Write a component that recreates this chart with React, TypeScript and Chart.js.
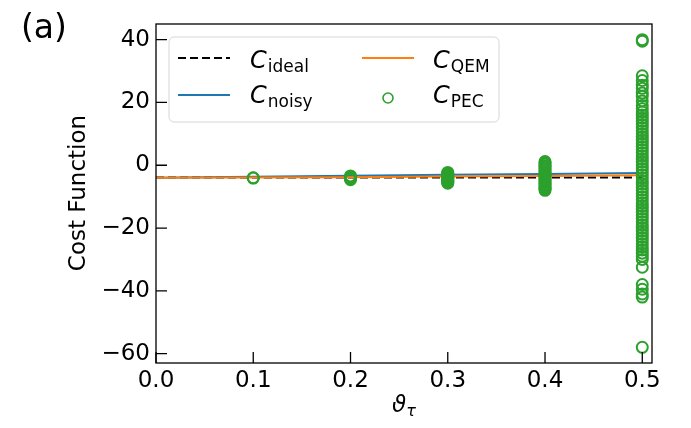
import { useEffect, useRef } from 'react';
import { Chart, registerables } from 'chart.js';
Chart.register(...registerables);

const thetaGrid = [0, 0.1, 0.2, 0.3, 0.4, 0.5];
const idealCost = [-3.9, -3.9, -3.9, -3.9, -3.9, -3.9];
const noisyCost = [-4.0, -3.7, -3.35, -3.0, -2.75, -2.5];
const qemCost = [-4.0, -3.9, -3.8, -3.6, -3.4, -3.2];

const pecCost01 = [-4.1, -4.0];
const pecCost02 = [-3.4, -3.6, -3.9, -4.1, -4.3, -4.6];
const pecCost03 = [-2.3, -2.6, -2.9, -3.1, -3.4, -3.7, -3.9, -4.1, -4.4, -4.7, -4.9, -5.2, -5.4, -5.7];
const pecCost04 = [
  1.2, 0.8, 0.3, -0.2, -0.6, -1.1, -1.5, -2.0, -2.4, -2.9, -3.3, -3.8, -4.2, -4.6, -5.1, -5.5, -5.9, -6.4,
  -6.8, -7.2, -7.6, -8.0,
];
const pecCost05 = [
  40, 39.5, 28.5, 27, 25.5, 24.5, 23, 22, 20.5, 19, 18, 17, 16, 15, 14, 13, 12, 11, 10, 9, 8, 7, 6, 5, 4,
  3, 2, 1, 0, -1, -2, -3, -4, -5, -6, -7, -8, -9, -10, -11, -12, -13, -14, -15, -16, -17, -18, -19, -20,
  -21, -22, -23, -24, -25, -26, -27, -28, -29, -30, -32.5, -38, -39.5, -41, -42, -58,
];

const xTicks = [0, 0.1, 0.2, 0.3, 0.4, 0.5];
const yTicks = [-60, -40, -20, 0, 20, 40];

const FONT = "'DejaVu Sans', sans-serif";

const pecPoints = [
  ...pecCost01.map((y) => ({ x: 0.1, y })),
  ...pecCost02.map((y) => ({ x: 0.2, y })),
  ...pecCost03.map((y) => ({ x: 0.3, y })),
  ...pecCost04.map((y) => ({ x: 0.4, y })),
  ...pecCost05.map((y) => ({ x: 0.5, y })),
];

const toXY = (ys: number[]) => thetaGrid.map((x, i) => ({ x, y: ys[i] }));

function drawSubLabel(ctx: CanvasRenderingContext2D, x: number, y: number, main: string, sub: string, size: number) {
  ctx.save();
  ctx.fillStyle = '#000';
  ctx.textBaseline = 'alphabetic';
  ctx.textAlign = 'left';
  ctx.font = `italic ${size}px ${FONT}`;
  ctx.fillText(main, x, y);
  const w = ctx.measureText(main).width;
  ctx.font = `${Math.round(size * 0.7)}px ${FONT}`;
  ctx.fillText(sub, x + w + 1, y + size * 0.15);
  ctx.restore();
}

const framePlugin = {
  id: 'framePlugin',
  afterDatasetsDraw(chart: any) {
    const { ctx, chartArea, scales } = chart;
    const { left, right, top, bottom } = chartArea;
    ctx.save();
    ctx.strokeStyle = '#000';
    ctx.lineWidth = 1.3;
    ctx.beginPath();
    yTicks.forEach((v) => {
      const py = scales.y.getPixelForValue(v);
      ctx.moveTo(left, py);
      ctx.lineTo(left + 11, py);
    });
    xTicks.forEach((v) => {
      const px = scales.x.getPixelForValue(v);
      ctx.moveTo(px, bottom);
      ctx.lineTo(px, bottom - 11);
    });
    ctx.stroke();
    ctx.strokeRect(left, top, right - left, bottom - top);
    ctx.restore();

    // legend
    const ds = chart.data.datasets;
    ctx.save();
    const bx = 169, by = 37, bw = 330, bh = 85, r = 5;
    ctx.beginPath();
    ctx.moveTo(bx + r, by);
    ctx.arcTo(bx + bw, by, bx + bw, by + bh, r);
    ctx.arcTo(bx + bw, by + bh, bx, by + bh, r);
    ctx.arcTo(bx, by + bh, bx, by, r);
    ctx.arcTo(bx, by, bx + bw, by, r);
    ctx.closePath();
    ctx.fillStyle = 'rgba(255,255,255,0.8)';
    ctx.fill();
    ctx.strokeStyle = '#d6d6d6';
    ctx.lineWidth = 1;
    ctx.stroke();

    const items = [
      { d: ds[0], lx: 178, ly: 58, tx: 250, ty: 68, sub: 'ideal' },
      { d: ds[1], lx: 178, ly: 95, tx: 250, ty: 103, sub: 'noisy' },
      { d: ds[2], lx: 362, ly: 58, tx: 433, ty: 68, sub: 'QEM' },
      { d: ds[3], lx: 362, ly: 98, tx: 433, ty: 103, sub: 'PEC' },
    ];
    items.forEach((it) => {
      if (it.d.type === 'scatter') {
        ctx.beginPath();
        ctx.arc(it.lx + 26, it.ly, 5, 0, Math.PI * 2);
        ctx.strokeStyle = it.d.borderColor;
        ctx.lineWidth = 1.6;
        ctx.stroke();
      } else {
        ctx.beginPath();
        ctx.setLineDash(it.d.borderDash || []);
        ctx.moveTo(it.lx, it.ly);
        ctx.lineTo(it.lx + 52, it.ly);
        ctx.strokeStyle = it.d.borderColor;
        ctx.lineWidth = it.d.borderWidth;
        ctx.stroke();
        ctx.setLineDash([]);
      }
      drawSubLabel(ctx, it.tx, it.ty, 'C', it.sub, 24);
    });
    ctx.restore();

    // titles
    ctx.save();
    ctx.fillStyle = '#000';
    ctx.font = `23px ${FONT}`;
    ctx.textAlign = 'center';
    ctx.textBaseline = 'middle';
    ctx.translate(79, 193);
    ctx.rotate(-Math.PI / 2);
    ctx.fillText('Cost Function', 0, 0);
    ctx.restore();

    ctx.save();
    ctx.fillStyle = '#000';
    ctx.font = `italic 23px ${FONT}`;
    ctx.textBaseline = 'alphabetic';
    const cx = (left + right) / 2;
    const w1 = ctx.measureText('ϑ').width;
    ctx.font = `16px ${FONT}`;
    const w2 = ctx.measureText('τ').width;
    const sx = cx - (w1 + w2) / 2;
    ctx.font = `italic 23px ${FONT}`;
    ctx.fillText('ϑ', sx, 412);
    ctx.font = `italic 16px ${FONT}`;
    ctx.fillText('τ', sx + w1, 416);
    ctx.font = `33px ${FONT}`;
    ctx.fillText('(a)', 21, 38);
    ctx.restore();
  },
};

export default function App() {
  const ref = useRef<HTMLCanvasElement>(null);
  useEffect(() => {
    document.body.style.margin = '0';
    const canvas = ref.current!;
    const chart = new Chart(canvas, {
      type: 'line',
      data: {
        datasets: [
          {
            type: 'line',
            label: 'C_ideal',
            data: toXY(idealCost),
            borderColor: '#000000',
            borderDash: [8, 4],
            borderWidth: 2,
            pointRadius: 0,
            order: 3,
          },
          {
            type: 'line',
            label: 'C_noisy',
            data: toXY(noisyCost),
            borderColor: '#1f77b4',
            borderWidth: 2,
            pointRadius: 0,
            order: 2,
          },
          {
            type: 'line',
            label: 'C_QEM',
            data: toXY(qemCost),
            borderColor: '#ff7f0e',
            borderWidth: 2,
            pointRadius: 0,
            order: 1,
          },
          {
            type: 'scatter',
            label: 'C_PEC',
            data: pecPoints,
            borderColor: '#2ca02c',
            backgroundColor: 'rgba(0,0,0,0)',
            pointRadius: 5.5,
            pointBorderWidth: 2,
            pointStyle: 'circle',
            clip: false,
            order: 0,
          } as any,
        ],
      },
      options: {
        responsive: false,
        animation: false,
        events: [],
        layout: { padding: { top: 24, right: 39, left: 0, bottom: 0 } },
        plugins: { legend: { display: false }, tooltip: { enabled: false } },
        scales: {
          x: {
            type: 'linear',
            min: 0,
            max: 0.51,
            grid: { display: false, drawTicks: false },
            border: { display: false },
            afterBuildTicks: (s: any) => {
              s.ticks = xTicks.map((v) => ({ value: v }));
            },
            afterFit: (s: any) => {
              s.height = 65;
            },
            ticks: {
              padding: 4,
              maxRotation: 0,
              autoSkip: false,
              color: '#000',
              font: { family: FONT, size: 23 },
              callback: (v: any) => Number(v).toFixed(1),
            },
          },
          y: {
            type: 'linear',
            min: -63,
            max: 45,
            grid: { display: false, drawTicks: false },
            border: { display: false },
            afterBuildTicks: (s: any) => {
              s.ticks = yTicks.map((v) => ({ value: v }));
            },
            afterFit: (s: any) => {
              s.width = 156;
            },
            ticks: {
              padding: 6,
              autoSkip: false,
              color: '#000',
              font: { family: FONT, size: 23 },
              callback: (v: any) => String(v).replace('-', '\u2212'),
            },
          },
        },
      },
      plugins: [framePlugin],
    });
    return () => chart.destroy();
  }, []);
  return <canvas ref={ref} width={691} height={428} style={{ display: 'block' }} />;
}
